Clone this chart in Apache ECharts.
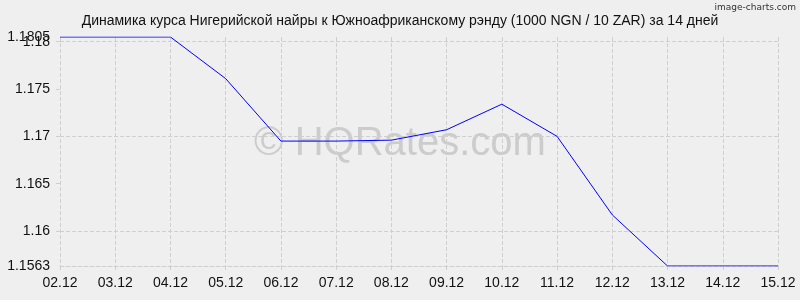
<!DOCTYPE html>
<html><head><meta charset="utf-8">
<script src="https://cdn.jsdelivr.net/npm/echarts@6/dist/echarts.min.js"></script>
<style>html,body{margin:0;padding:0;background:#efefef}#c{width:800px;height:300px}</style>
</head><body><div id="c"></div>
<script>
const titleText = 'Динамика курса Нигерийской найры к Южноафриканскому рэнду (1000 NGN / 10 ZAR) за 14 дней';
const categories = ['02.12','03.12','04.12','05.12','06.12','07.12','08.12','09.12','10.12','11.12','12.12','13.12','14.12','15.12'];
const rates = [1.1805,1.1805,1.1805,1.1761,1.1695,1.1695,1.1696,1.1707,1.1734,1.1700,1.1617,1.1563,1.1563,1.1563];
const yMin = 1.1563;
const yMax = 1.1805;
const yGridValues = [1.16,1.165,1.17,1.175,1.18];
const yLabelValues = [1.1563,1.16,1.165,1.17,1.175,1.1805];
const yExtraLabelValues = [1.18];

const chart = echarts.init(document.getElementById('c'), null, {renderer:'canvas'});
const gridColor = '#cfcfcf';
const labelStyle = {fontFamily:'Liberation Sans',fontSize:14,color:'#111',margin:10,hideOverlap:false,
  showMaxLabel:true,showMinLabel:true,formatter:v=>String(+v.toFixed(4))};
chart.setOption({
  backgroundColor:'#efefef',
  animation:false,
  title:{text:titleText,left:'center',top:9,textStyle:{fontFamily:'Liberation Sans',fontSize:14,fontWeight:'normal',color:'#111'}},
  graphic:[
    {type:'text',left:'center',top:124,silent:true,z:0,
     style:{text:'© HQRates.com',fontFamily:'Liberation Sans',fontSize:40,fill:'rgba(170,170,170,0.5)'}},
    {type:'text',right:4,top:3,silent:true,style:{text:'image-charts.com',fontFamily:'DejaVu Sans',fontSize:9,fill:'#333'}}
  ],
  grid:{left:60,right:22,top:37,bottom:34,containLabel:false},
  xAxis:{type:'category',data:categories,boundaryGap:false,
    axisLine:{lineStyle:{color:gridColor,type:'dashed'}},
    axisTick:{show:true,length:4,lineStyle:{color:gridColor}},
    axisLabel:{fontFamily:'Liberation Sans',fontSize:14,color:'#111',margin:10},
    splitLine:{show:true,lineStyle:{color:gridColor,type:'dashed'}}},
  yAxis:[
    {type:'value',min:yMin,max:yMax,position:'left',
      axisLine:{show:false},
      axisTick:{show:true,length:4,customValues:yGridValues,lineStyle:{color:gridColor}},
      axisLabel:Object.assign({customValues:yLabelValues},labelStyle),
      splitLine:{show:false}},
    {type:'value',min:yMin,max:yMax,position:'left',offset:0,
      axisLine:{show:false},axisTick:{show:false},
      axisLabel:Object.assign({customValues:yExtraLabelValues},labelStyle),
      splitLine:{show:false}}
  ],
  series:[{type:'line',data:rates,symbol:'none',lineStyle:{color:'#0000ff',width:1},z:5,
    markLine:{silent:true,symbol:'none',label:{show:false},
      lineStyle:{color:gridColor,type:'dashed',width:1},
      data:yGridValues.map(v=>({yAxis:v}))}}]
});
</script></body></html>
